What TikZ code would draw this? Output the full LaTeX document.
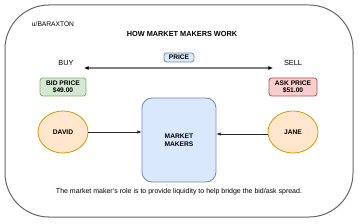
\documentclass[tikz,border=0pt]{standalone}
\usepackage{fontspec}
\setmainfont{Liberation Sans}
\usepackage{tikz}
\usetikzlibrary{arrows.meta,positioning,shapes.geometric}
\definecolor{greenfill}{HTML}{D5E8D4}
\definecolor{greenline}{HTML}{82B366}
\definecolor{redfill}{HTML}{F8CECC}
\definecolor{redline}{HTML}{B85450}
\definecolor{orangefill}{HTML}{FFE6CC}
\definecolor{orangeline}{HTML}{D79B00}
\definecolor{bluefill}{HTML}{DAE8FC}
\definecolor{blueline}{HTML}{6C8EBF}
\tikzset{
  pricebox/.style={
    draw,
    rounded corners=2pt,
    line width=0.6pt,
    align=center,
    inner sep=0pt,
    font=\fontsize{5}{5.8}\selectfont\bfseries
  },
  bidbox/.style={pricebox, draw=greenline, fill=greenfill, minimum width=34.5pt, minimum height=13.5pt},
  askbox/.style={pricebox, draw=redline, fill=redfill, minimum width=36pt, minimum height=13.5pt},
  tagbox/.style={pricebox, draw=blueline, fill=bluefill, minimum width=22.5pt, minimum height=6.75pt},
  trader/.style={ellipse, draw=orangeline, fill=orangefill, line width=0.6pt,
    minimum width=37.5pt, minimum height=31.5pt, inner sep=0pt,
    font=\fontsize{5}{5.8}\selectfont\bfseries},
  makerbox/.style={draw=blueline, fill=bluefill, rounded corners=7.5pt, line width=0.6pt,
    minimum width=55.5pt, minimum height=63pt, align=center, inner sep=0pt,
    font=\fontsize{5}{5.8}\selectfont\bfseries},
  framebox/.style={draw=black!60, rounded corners=33pt, line width=0.75pt,
    minimum width=261pt, minimum height=159pt, inner sep=0pt},
  plain/.style={inner sep=0pt, font=\fontsize{5}{6}\selectfont},
  flow/.style={-{Latex[length=3.2pt,width=2.6pt]}, line width=0.45pt, black!85},
  spread/.style={{Latex[length=3.4pt,width=3pt,color=black]}-{Latex[length=3.4pt,width=3pt,color=black]},
    line width=0.9pt, black!50}
}
\begin{document}
\begin{tikzpicture}[x=0.75pt, y=-0.75pt]
\useasboundingbox (0,0) rectangle (360,224);
\fill[white] (0,0) rectangle (360,224);
\node[framebox] (frame) at (179,111) {};

\node[plain] (user) at (53,24) {u/BARAXTON};
\node[plain, font=\fontsize{5.5}{6.5}\selectfont\bfseries] (title) at (182,34) {HOW MARKET MAKERS WORK};

\node[tagbox] (price) at (179,57.5) {PRICE};
\node[plain, font=\fontsize{5.5}{6.5}\selectfont] (buy) at (66,63) {BUY};
\node[plain, font=\fontsize{5.5}{6.5}\selectfont] (sell) at (293,63) {SELL};
\coordinate (spreadL) at (84,68);
\coordinate (spreadR) at (273,68);

\node[bidbox] (bid) at (63,87) {BID PRICE\\\$49.00};
\node[askbox] (ask) at (293,87) {ASK PRICE\\\$51.00};

\node[trader] (david) at (63,132) {DAVID};
\node[trader] (jane) at (293,132) {JANE};
\node[makerbox] (maker) at (179,140) {MARKET\\MAKERS};

\node[plain, font=\fontsize{5.25}{6}\selectfont] (note) at (179,192) {The market maker's role is to provide liquidity to help bridge the bid/ask spread.};

\draw[spread] (spreadL) -- (spreadR);
\draw[flow] (david) -- (maker.west |- david);
\draw[flow] (jane.west |- 0,134) -- (maker.east |- 0,134);
\end{tikzpicture}
\end{document}
